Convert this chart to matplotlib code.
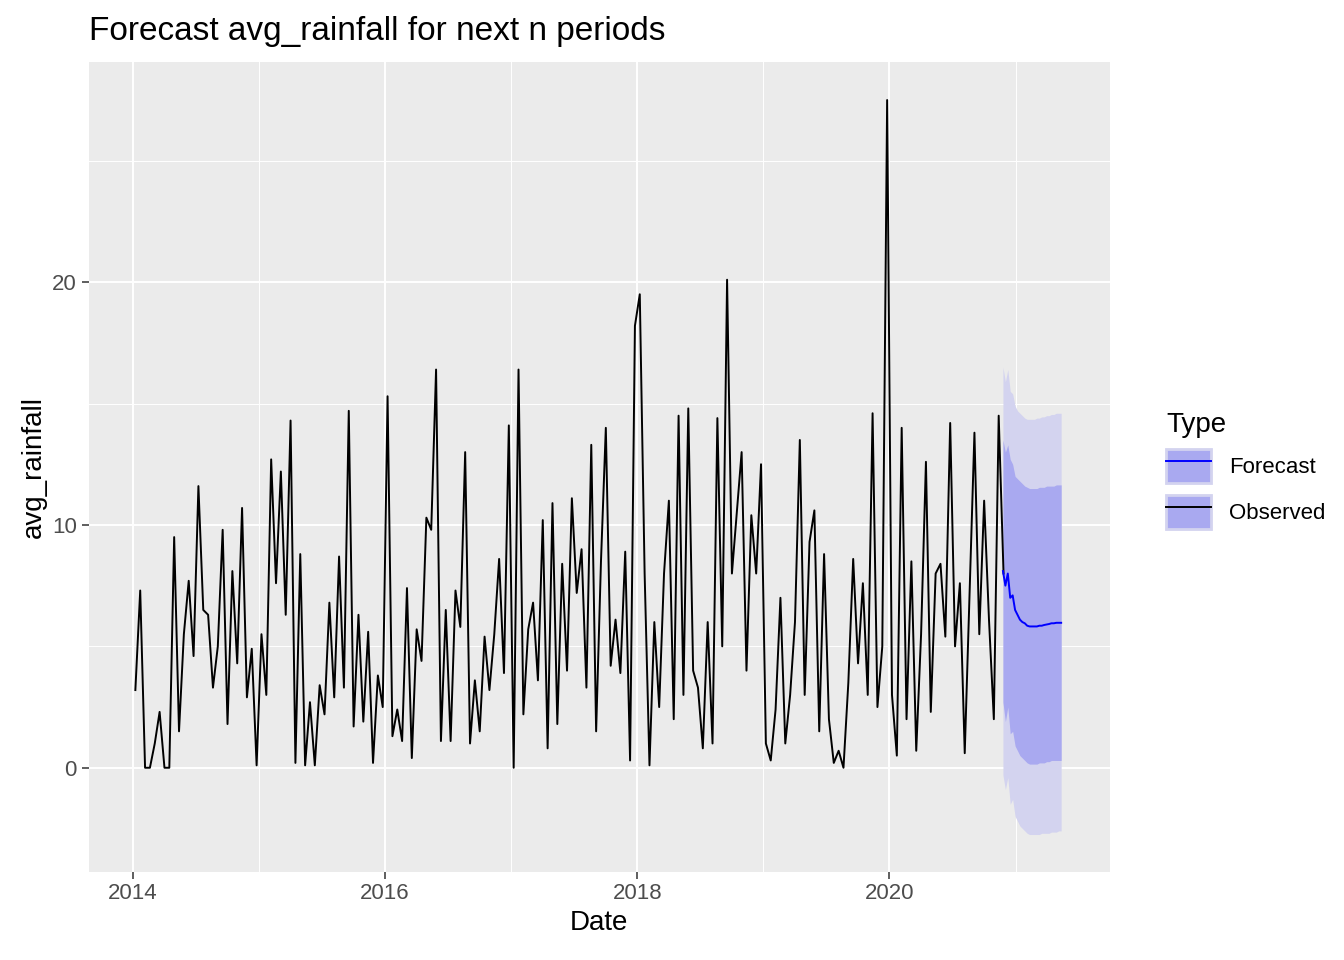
import numpy as np
import matplotlib.pyplot as plt
from matplotlib.patches import Patch
from matplotlib.lines import Line2D

plt.rcParams["font.family"] = ["Liberation Sans", "DejaVu Sans"]

# observed, roughly biweekly values
obs_2014 = [3.2, 7.3, 0, 0, 1, 2.3, 0, 0, 9.5, 1.5, 5.5, 7.7, 4.6, 11.6, 6.5, 6.3, 3.3, 5, 9.8, 1.8, 8.1, 4.3, 10.7, 2.9, 4.9, 0.1]
obs_2015 = [5.5, 3, 12.7, 7.6, 12.2, 6.3, 14.3, 0.2, 8.8, 0.1, 2.7, 0.1, 3.4, 2.2, 6.8, 2.9, 8.7, 3.3, 14.7, 1.7, 6.3, 1.9, 5.6, 0.2, 3.8, 2.5]
obs_2016 = [15.3, 1.3, 2.4, 1.1, 7.4, 0.4, 5.7, 4.4, 10.3, 9.8, 16.4, 1.1, 6.5, 1.1, 7.3, 5.8, 13, 1, 3.6, 1.5, 5.4, 3.2, 5.5, 8.6, 3.9, 14.1]
obs_2017 = [0, 16.4, 2.2, 5.7, 6.8, 3.6, 10.2, 0.8, 10.9, 1.8, 8.4, 4, 11.1, 7.2, 9, 3.3, 13.3, 1.5, 8.5, 14, 4.2, 6.1, 3.9, 8.9, 0.3, 18.2]
obs_2018 = [19.5, 8, 0.1, 6, 2.5, 8, 11, 2, 14.5, 3, 14.8, 4, 3.3, 0.8, 6, 1, 14.4, 5, 20.1, 8, 10.5, 13, 4, 10.4, 8, 12.5]
obs_2019 = [1, 0.3, 2.4, 7, 1, 3, 6, 13.5, 3, 9.3, 10.6, 1.5, 8.8, 2, 0.2, 0.7, 0, 3.5, 8.6, 4.3, 7.6, 3, 14.6, 2.5, 5, 27.5]
obs_2020 = [3, 0.5, 14, 2, 8.5, 0.7, 5.5, 12.6, 2.3, 8, 8.4, 5.4, 14.2, 5, 7.6, 0.6, 7.2, 13.8, 5.5, 11, 6.1, 2, 14.5, 8]
observed = obs_2014 + obs_2015 + obs_2016 + obs_2017 + obs_2018 + obs_2019 + obs_2020
obs_dates = 2014.02 + np.arange(len(observed)) / 26

# forecast, weekly
fc_mean = [8.1, 7.5, 8.0, 7.0, 7.1, 6.5, 6.3, 6.1, 6.0, 5.95, 5.85, 5.82, 5.82, 5.82, 5.82, 5.85, 5.85, 5.88, 5.9, 5.92, 5.95, 5.95, 5.97, 5.97, 5.97]
fc_hi80 = [13.5, 13.0, 13.3, 12.7, 12.5, 12.0, 11.9, 11.8, 11.7, 11.6, 11.55, 11.5, 11.5, 11.5, 11.5, 11.55, 11.55, 11.55, 11.6, 11.6, 11.6, 11.6, 11.65, 11.65, 11.65]
fc_lo80 = [2.7, 1.9, 2.5, 1.4, 1.5, 0.9, 0.7, 0.5, 0.4, 0.3, 0.2, 0.15, 0.15, 0.15, 0.15, 0.2, 0.2, 0.2, 0.25, 0.25, 0.3, 0.3, 0.3, 0.3, 0.3]
fc_hi95 = [16.5, 15.9, 16.4, 15.5, 15.4, 14.9, 14.7, 14.6, 14.5, 14.4, 14.35, 14.35, 14.35, 14.35, 14.4, 14.4, 14.45, 14.45, 14.5, 14.5, 14.55, 14.55, 14.6, 14.6, 14.6]
fc_lo95 = [-0.3, -0.9, -0.4, -1.5, -1.3, -2.0, -2.2, -2.4, -2.5, -2.6, -2.7, -2.75, -2.75, -2.75, -2.75, -2.75, -2.7, -2.7, -2.7, -2.7, -2.65, -2.65, -2.65, -2.6, -2.6]
fc_dates = 2020.9 + np.arange(len(fc_mean)) / 52

fig = plt.figure(figsize=(13.44, 9.6), dpi=100)
ax = fig.add_axes([0.066, 0.092, 0.76, 0.843])
ax.set_facecolor("#EBEBEB")
for s in ax.spines.values():
    s.set_visible(False)

ax.fill_between(fc_dates, fc_lo95, fc_hi95, color="#D3D3EF", lw=0, zorder=2)
ax.fill_between(fc_dates, fc_lo80, fc_hi80, color="#A9A9F0", lw=0, zorder=2)
ax.plot(obs_dates, observed, color="black", lw=1.4, zorder=3)
ax.plot(fc_dates, fc_mean, color="blue", lw=1.4, zorder=3)

ax.set_xlim(2013.65, 2021.75)
ax.set_ylim(-4.28, 29.05)
ax.set_xticks([2014, 2016, 2018, 2020])
ax.set_xticks([2015, 2017, 2019, 2021], minor=True)
ax.set_yticks([0, 10, 20])
ax.set_yticks([5, 15, 25], minor=True)
ax.grid(which="major", color="white", lw=1.4, zorder=1)
ax.grid(which="minor", color="white", lw=0.7, zorder=1)
ax.set_axisbelow(True)
ax.tick_params(which="major", colors="#333333", labelcolor="#4D4D4D", labelsize=16, length=5, width=1.1)
ax.tick_params(which="minor", length=0)

ax.set_xlabel("Date", fontsize=20, labelpad=4)
ax.set_ylabel("avg_rainfall", fontsize=20)
ax.set_title("Forecast avg_rainfall for next n periods", fontsize=24, loc="left", x=0.0, pad=16)

handles = [
    (Patch(facecolor="#A9A9F0", edgecolor="#D3D3EF", lw=2), Line2D([], [], color="blue", lw=1.4)),
    (Patch(facecolor="#A9A9F0", edgecolor="#D3D3EF", lw=2), Line2D([], [], color="black", lw=1.4)),
]
leg = fig.legend(handles, ["Forecast", "Observed"], title="Type", loc="center left",
                 bbox_to_anchor=(0.853, 0.51), frameon=False, fontsize=16, title_fontsize=20,
                 handlelength=2.0, handleheight=2.0, labelspacing=0.5)
leg._legend_box.align = "left"

fig.savefig("out.png", dpi=100)
